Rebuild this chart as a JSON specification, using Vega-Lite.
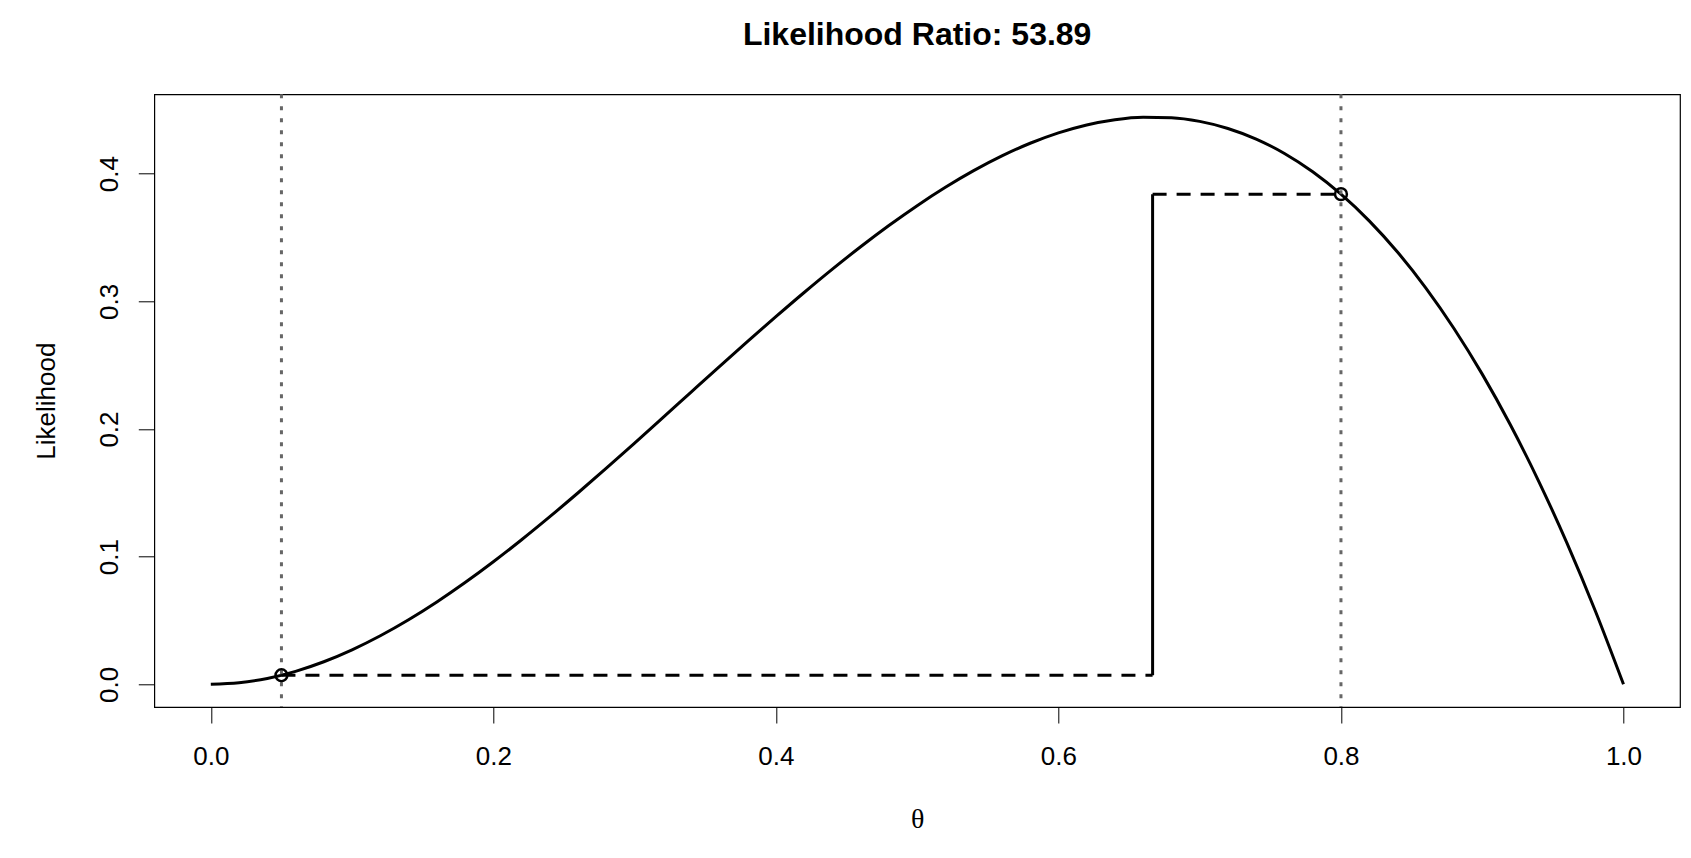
{
  "$schema": "https://vega.github.io/schema/vega-lite/v6.json",
  "width": 1525.7,
  "height": 612.7,
  "autosize": {"type": "none"},
  "padding": {"left": 154.3, "top": 94.3, "right": 11, "bottom": 151},
  "background": "white",
  "title": {
    "text": "Likelihood Ratio: 53.89",
    "font": "Liberation Sans",
    "fontSize": 32,
    "fontWeight": "bold",
    "color": "black",
    "anchor": "middle",
    "frame": "group",
    "baseline": "bottom",
    "offset": 8.5
  },
  "config": {
    "view": {"stroke": "black", "strokeWidth": 1.2},
    "axis": {
      "domain": false,
      "grid": false,
      "tickColor": "black",
      "tickWidth": 1,
      "tickSize": 16,
      "labelFont": "Liberation Sans",
      "labelFontSize": 26,
      "labelColor": "black",
      "titleColor": "black",
      "titleFontWeight": "normal"
    }
  },
  "datasets": {
    "curve": [
      {"theta": 0.00, "L": 0},
      {"theta": 0.02, "L": 0.001176},
      {"theta": 0.04, "L": 0.004608},
      {"theta": 0.06, "L": 0.010152},
      {"theta": 0.08, "L": 0.017664},
      {"theta": 0.10, "L": 0.027},
      {"theta": 0.12, "L": 0.038016},
      {"theta": 0.14, "L": 0.050568},
      {"theta": 0.16, "L": 0.064512},
      {"theta": 0.18, "L": 0.079704},
      {"theta": 0.20, "L": 0.096},
      {"theta": 0.22, "L": 0.113256},
      {"theta": 0.24, "L": 0.131328},
      {"theta": 0.26, "L": 0.150072},
      {"theta": 0.28, "L": 0.169344},
      {"theta": 0.30, "L": 0.189},
      {"theta": 0.32, "L": 0.208896},
      {"theta": 0.34, "L": 0.228888},
      {"theta": 0.36, "L": 0.248832},
      {"theta": 0.38, "L": 0.268584},
      {"theta": 0.40, "L": 0.288},
      {"theta": 0.42, "L": 0.306936},
      {"theta": 0.44, "L": 0.325248},
      {"theta": 0.46, "L": 0.342792},
      {"theta": 0.48, "L": 0.359424},
      {"theta": 0.50, "L": 0.375},
      {"theta": 0.52, "L": 0.389376},
      {"theta": 0.54, "L": 0.402408},
      {"theta": 0.56, "L": 0.413952},
      {"theta": 0.58, "L": 0.423864},
      {"theta": 0.60, "L": 0.432},
      {"theta": 0.62, "L": 0.438216},
      {"theta": 0.64, "L": 0.442368},
      {"theta": 0.66, "L": 0.444312},
      {"theta": 0.68, "L": 0.443904},
      {"theta": 0.70, "L": 0.441},
      {"theta": 0.72, "L": 0.435456},
      {"theta": 0.74, "L": 0.427128},
      {"theta": 0.76, "L": 0.415872},
      {"theta": 0.78, "L": 0.401544},
      {"theta": 0.80, "L": 0.384},
      {"theta": 0.82, "L": 0.363096},
      {"theta": 0.84, "L": 0.338688},
      {"theta": 0.86, "L": 0.310632},
      {"theta": 0.88, "L": 0.278784},
      {"theta": 0.90, "L": 0.243},
      {"theta": 0.92, "L": 0.203136},
      {"theta": 0.94, "L": 0.159048},
      {"theta": 0.96, "L": 0.110592},
      {"theta": 0.98, "L": 0.057624},
      {"theta": 1.00, "L": 0}
    ],
    "marks": [
      {"theta": 0.05, "L": 0.007125},
      {"theta": 0.8, "L": 0.384}
    ],
    "hsegs": [
      {"theta": 0.05, "theta_end": 0.666667, "L": 0.007125},
      {"theta": 0.666667, "theta_end": 0.8, "L": 0.384}
    ],
    "vseg": [
      {"theta": 0.666667, "L": 0.007125, "L_end": 0.384}
    ]
  },
  "layer": [
    {
      "data": {"name": "curve"},
      "mark": {"type": "line", "color": "black", "strokeWidth": 3, "interpolate": "monotone"},
      "encoding": {
        "x": {"field": "theta", "type": "quantitative", "title": "θ",
              "scale": {"domain": [-0.04, 1.04], "nice": false, "zero": false},
              "axis": {
                "values": [0, 0.2, 0.4, 0.6, 0.8, 1.0],
                "format": ".1f",
                "labelBaseline": "alphabetic",
                "labelPadding": 41,
                "labelFlush": false,
                "labelOverlap": false,
                "titleFont": "Liberation Serif",
                "titleFontSize": 28,
                "titleBaseline": "alphabetic",
                "titleY": 120,
                "titleX": 762.85
              }},
        "y": {"field": "L", "type": "quantitative", "title": "Likelihood",
              "scale": {"domain": [-0.01778, 0.46222], "nice": false, "zero": false},
              "axis": {
                "values": [0, 0.1, 0.2, 0.3, 0.4],
                "format": ".1f",
                "labelAngle": -90,
                "labelAlign": "center",
                "labelBaseline": "alphabetic",
                "labelPadding": 21,
                "labelFlush": false,
                "labelOverlap": false,
                "titleFont": "Liberation Sans",
                "titleFontSize": 26,
                "titleAngle": -90,
                "titleAlign": "center",
                "titleBaseline": "alphabetic",
                "titleX": -100,
                "titleY": 306.35
              }}
      }
    },
    {
      "data": {"name": "marks"},
      "mark": {"type": "rule", "color": "#666666", "strokeWidth": 3, "strokeDash": [4, 8]},
      "encoding": {
        "x": {"field": "theta", "type": "quantitative", "title": "θ"}
      }
    },
    {
      "data": {"name": "hsegs"},
      "mark": {"type": "rule", "color": "black", "strokeWidth": 3, "strokeDash": [14, 10]},
      "encoding": {
        "x": {"field": "theta", "type": "quantitative", "title": "θ"},
        "x2": {"field": "theta_end"},
        "y": {"field": "L", "type": "quantitative", "title": "Likelihood"}
      }
    },
    {
      "data": {"name": "vseg"},
      "mark": {"type": "rule", "color": "black", "strokeWidth": 3},
      "encoding": {
        "x": {"field": "theta", "type": "quantitative", "title": "θ"},
        "y": {"field": "L", "type": "quantitative", "title": "Likelihood"},
        "y2": {"field": "L_end"}
      }
    },
    {
      "data": {"name": "marks"},
      "mark": {"type": "point", "shape": "circle", "filled": false, "color": "black", "strokeWidth": 2.5, "size": 140, "opacity": 1},
      "encoding": {
        "x": {"field": "theta", "type": "quantitative", "title": "θ"},
        "y": {"field": "L", "type": "quantitative", "title": "Likelihood"}
      }
    }
  ]
}
